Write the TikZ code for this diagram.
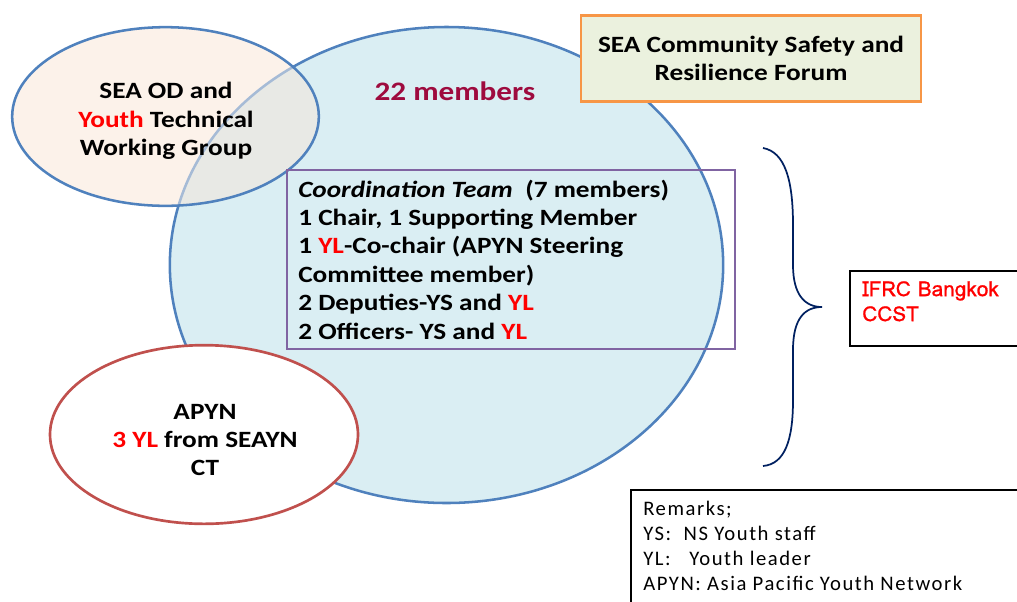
\documentclass[tikz,border=0pt]{standalone}
\usepackage{fontspec}
\setmainfont[FakeStretch=1.17]{Carlito}
\newfontfamily\lomafont[FakeBold=1]{Loma}
\newfontfamily\remfont[LetterSpace=7.5]{Carlito}
\usetikzlibrary{shapes.geometric}
\definecolor{bigfill}{HTML}{DAEEF3}
\definecolor{bigline}{HTML}{4F81BD}
\definecolor{odfill}{HTML}{FCF2EA}
\definecolor{overlapfill}{HTML}{E8E9E5}
\definecolor{fadedline}{HTML}{A6BBD6}
\definecolor{apynline}{HTML}{C0504D}
\definecolor{coordline}{HTML}{8064A2}
\definecolor{forumfill}{HTML}{EBF1DE}
\definecolor{forumline}{HTML}{F79646}
\definecolor{maroontext}{HTML}{9E0B3E}
\definecolor{bracecol}{HTML}{002060}
\definecolor{hired}{HTML}{FF0000}
\begin{document}
\begin{tikzpicture}[x=0.75pt,y=-0.75pt,
  maintext/.style={font=\bfseries\fontsize{17.5}{21.3}\selectfont},
  bubble/.style={ellipse, inner sep=0pt, line width=1.9pt}]
\useasboundingbox (0,0) rectangle (1017,601);
% big circle
\node[bubble, fill=bigfill, draw=bigline,
      minimum width=415pt, minimum height=357pt] (big) at (446.5,265) {};
% OD ellipse fill and overlap
\fill[odfill] (165.5,116.5) ellipse [x radius=115pt, y radius=67pt];
\begin{scope}
  \clip (446.5,265) ellipse [x radius=207.5pt, y radius=178.5pt];
  \fill[overlapfill] (165.5,116.5) ellipse [x radius=115pt, y radius=67pt];
\end{scope}
\begin{scope}
  \clip (165.5,116.5) ellipse [x radius=115pt, y radius=67pt];
  \draw[fadedline, line width=1.9pt] (446.5,265) ellipse [x radius=207.5pt, y radius=178.5pt];
\end{scope}
\node[bubble, draw=bigline, minimum width=230pt, minimum height=134pt] (od) at (165.5,116.5) {};
\node[maintext, align=center, inner sep=0pt] (odtext) at (166,121)
  {SEA OD and\\\textcolor{hired}{Youth} Technical\\Working Group};
% APYN
\node[bubble, draw=apynline, fill=white, line width=2pt, minimum width=231pt, minimum height=134pt] (apyn) at (204,434.5) {};
\node[maintext, align=center, inner sep=0pt] (apyntext) at (205,440)
  {APYN\\\textcolor{hired}{3 YL} from SEAYN\\CT};
% 22 members
\node[text=maroontext, font=\bfseries\fontsize{20}{24}\selectfont, inner sep=0pt] (members) at (455,91) {22 members};
% coordination team
\node[draw=coordline, line width=1.5pt, anchor=north west, inner sep=0pt,
      minimum width=336pt, minimum height=134pt] (coord) at (286,169) {};
\node[anchor=north west, align=left, inner sep=0pt, maintext] (coordtext) at (298,179.5)
  {\textit{Coordination Team}\ \ (7 members)\\
   1 Chair, 1 Supporting Member\\
   1 \textcolor{hired}{YL}-Co-chair (APYN Steering\\
   Committee member)\\
   2 Deputies-YS and \textcolor{hired}{YL}\\
   2 Officers- YS and \textcolor{hired}{YL}};
% forum
\node[draw=forumline, fill=forumfill, line width=2.2pt, inner sep=0pt, align=center, maintext,
      minimum width=255pt, minimum height=64pt] (forum) at (751,58.5)
  {SEA Community Safety and\\Resilience Forum};
% IFRC
\node[draw, line width=1.5pt, anchor=north west, inner sep=0pt,
      minimum width=150pt, minimum height=56pt] (ifrc) at (849,270) {};
\node[anchor=north west, align=left, inner sep=0pt, text=hired,
      font=\lomafont\fontsize{15.6}{18.75}\selectfont] (ifrctext) at (862,281)
  {IFRC Bangkok\\CCST};
% remarks
\node[draw, line width=1.5pt, anchor=north west, inner sep=0pt,
      minimum width=320pt, minimum height=100pt] (remarks) at (630,489) {};
\node[anchor=north west, align=left, inner sep=0pt,
      font=\remfont\fontsize{15.5}{18.75}\selectfont] (remtext) at (643,501)
  {Remarks;\\YS:\ \ NS Youth staff\\YL:\ \ \ Youth leader\\APYN: Asia Pacific Youth Network};
% brace
\coordinate (bt) at (763,148);
\coordinate (bm) at (822,307);
\coordinate (bb) at (763,466);
\draw[bracecol, line width=1.3pt]
  (bt) .. controls (785,152) and (793,180) .. (793,225)
  -- (793,265) .. controls (793,295) and (805,307) .. (bm)
  .. controls (805,307) and (793,318) .. (793,350)
  -- (793,400) .. controls (793,440) and (785,464) .. (bb);
\end{tikzpicture}
\end{document}
